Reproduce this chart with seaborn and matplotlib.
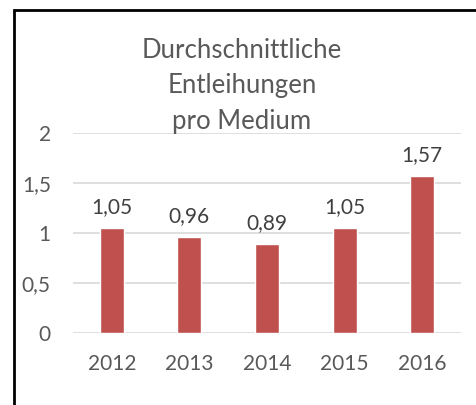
import matplotlib
matplotlib.use("Agg")
import matplotlib.pyplot as plt
import seaborn as sns
import pandas as pd
from matplotlib.patches import Rectangle

# Data
years = ['2012', '2013', '2014', '2015', '2016']
loans_per_item = [1.05, 0.96, 0.89, 1.05, 1.57]
y_ticks = [0, 0.5, 1, 1.5, 2]
y_tick_labels = ['0', '0,5', '1', '1,5', '2']
title = 'Durchschnittliche\nEntleihungen\npro Medium'

sns.set_style('white')
plt.rcParams['font.family'] = ['Lato', 'DejaVu Sans']

df = pd.DataFrame({'year': years, 'value': loans_per_item})

fig = plt.figure(figsize=(4.76, 4.05), dpi=100)
ax = fig.add_axes([73 / 476, 72 / 405, 388 / 476, 200 / 405])

sns.barplot(data=df, x='year', y='value', color='#c0504d', saturation=1,
            width=0.31, ax=ax, zorder=3)

ax.set_ylim(0, 2)
ax.set_yticks(y_ticks)
ax.set_yticklabels(y_tick_labels)
ax.yaxis.grid(True, color='#d9d9d9', linewidth=1.2, zorder=0)
ax.set_axisbelow(True)
for side in ['top', 'right', 'left', 'bottom']:
    ax.spines[side].set_visible(False)
ax.set_xlabel('')
ax.set_ylabel('')
ax.tick_params(axis='both', length=0, labelsize=15, colors='#595959')
ax.tick_params(axis='y', pad=16)
ax.tick_params(axis='x', pad=15)

ax.bar_label(ax.containers[0],
             labels=[f'{v:.2f}'.replace('.', ',') for v in loans_per_item],
             padding=8, fontsize=15, color='#404040')

fig.text(242 / 476, 1 - 86 / 405, title, ha='center', va='center',
         fontsize=18.5, color='#595959', linespacing=1.55)

# chart frame
fig.patches.append(Rectangle((14 / 476, -0.05), 1.0, 1 - 10 / 405 + 0.05,
                             transform=fig.transFigure, fill=False,
                             edgecolor='black', linewidth=2))

fig.savefig('out.png', dpi=100)
